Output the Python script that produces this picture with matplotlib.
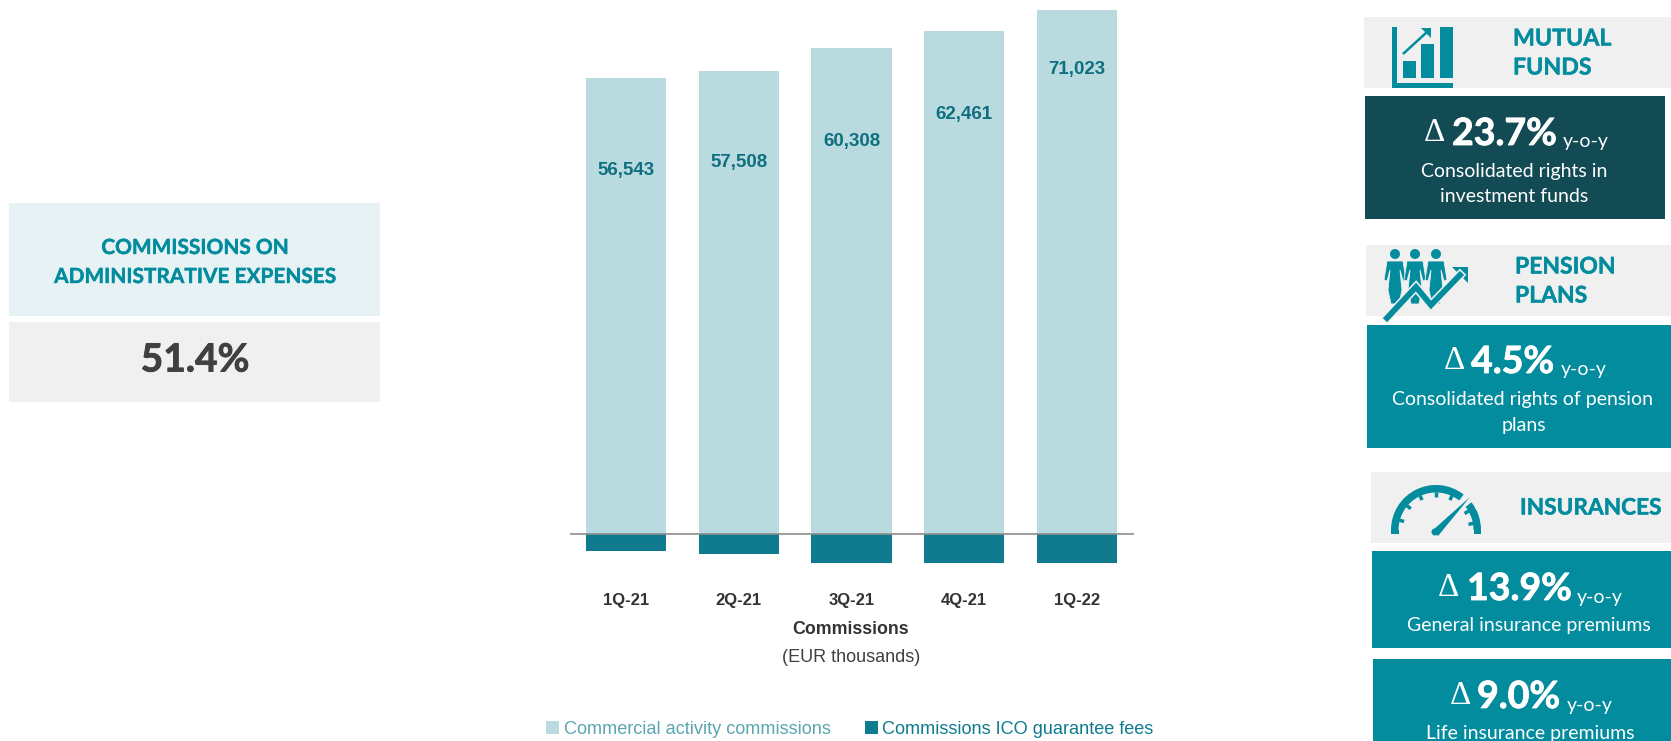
import math
import matplotlib
matplotlib.use('Agg')
import matplotlib.pyplot as plt
import matplotlib.patheffects as pe
from matplotlib.patches import Rectangle, Circle, Wedge, Polygon

# chart values, EUR thousands
quarters = ['1Q-21', '2Q-21', '3Q-21', '4Q-21', '1Q-22']
commercial = [56543, 57508, 60308, 62461, 71023]
ico_fees = [-2150, -2500, -3700, -3700, -3700]
series_names = ['Commercial activity commissions', 'Commissions ICO guarantee fees']

# panel texts
admin_title = ['COMMISSIONS ON', 'ADMINISTRATIVE EXPENSES']
admin_value = '51.4%'
funds_delta = '23.7%'
pension_delta = '4.5%'
general_delta = '13.9%'
life_delta = '9.0%'

TEAL = '#028c9e'
DARK = '#124b54'
GREY = '#f0f0f0'
LIGHT_BAR = '#b9dbdf'
DARK_BAR = '#107b8f'

SANS = 'Liberation Sans'
BODY = 'Lato'

W, H = 1671, 741
fig = plt.figure(figsize=(W / 100, H / 100), dpi=100)

# overlay in pixel units for the side panels
ov = fig.add_axes([0, 0, 1, 1], zorder=0)
ov.set_xlim(0, W)
ov.set_ylim(H, 0)
ov.axis('off')


def box(x0, y0, x1, y1, color):
    ov.add_patch(Rectangle((x0, y0), x1 - x0, y1 - y0, fc=color, ec='none'))


def txt(x, y, s, size, color=TEAL, weight='normal', ha='center', family=BODY, thick=0):
    t = ov.text(x, y, s, fontsize=size, color=color, fontweight=weight, ha=ha, va='center', family=family)
    if thick:
        # Lato bold is a bit light, fatten it
        t.set_path_effects([pe.withStroke(linewidth=thick, foreground=color)])
    return t


def delta_line(xd, xv, xy, y, value):
    txt(xd, y + 1, '\u0394', 24, 'white', ha='left', family='Liberation Serif')
    txt(xv, y + 2, value, 27, 'white', 'bold', ha='left', thick=0.6)
    txt(xy, y + 10, 'y-o-y', 14, 'white', ha='left')


# left panel
box(8.5, 203, 380, 316, '#e6f2f3')
box(8.5, 322, 380, 402, GREY)
txt(195, 248, admin_title[0], 15, weight='bold', thick=0.3)
txt(195, 277, admin_title[1], 15, weight='bold', thick=0.3)
txt(195, 360, admin_value, 28, '#404040', 'bold', thick=0.6)

# mutual funds
box(1364, 17, W, 88, GREY)
box(1365, 96, 1665, 219, DARK)
txt(1513, 39, 'MUTUAL', 16.7, weight='bold', ha='left', thick=0.3)
txt(1513, 68, 'FUNDS', 16.7, weight='bold', ha='left', thick=0.3)
delta_line(1424, 1452, 1563, 132, funds_delta)
txt(1514, 171, 'Consolidated rights in', 14, 'white')
txt(1514, 197, 'investment funds', 14, 'white')

# chart icon
box(1392, 27, 1397, 88, TEAL)
box(1392, 83, 1453, 88, TEAL)
box(1403, 61, 1416, 78, TEAL)
box(1421, 44, 1434, 78, TEAL)
box(1440, 27, 1453, 78, TEAL)
ov.plot([1403, 1427], [54, 32], color=TEAL, lw=1.8, solid_capstyle='butt')
ov.add_patch(Polygon([[1431, 28], [1431, 38], [1421, 28]], fc=TEAL, ec='none'))

# pension plans
box(1366, 245, W, 316, GREY)
box(1367, 325, W, 448, TEAL)
txt(1515, 267, 'PENSION', 16.5, weight='bold', ha='left', thick=0.3)
txt(1515, 296, 'PLANS', 16.5, weight='bold', ha='left', thick=0.3)
delta_line(1444, 1471, 1561, 360, pension_delta)
txt(1523, 399, 'Consolidated rights of pension', 14, 'white')
txt(1524, 425, 'plans', 14, 'white')

# people and rising arrow icon
for cx in (1395, 1415, 1436):
    ov.add_patch(Circle((cx, 254), 5, fc=TEAL, ec='none'))
    ov.add_patch(Polygon([[cx - 8, 261], [cx + 8, 261], [cx + 11, 280], [cx + 8, 281], [cx + 5, 270],
                          [cx + 7, 290], [cx + 4, 304], [cx - 4, 304], [cx - 7, 290], [cx - 5, 270],
                          [cx - 8, 281], [cx - 11, 280]], fc=TEAL, ec=GREY, lw=0.6))
ov.plot([1387, 1416, 1431, 1460], [318, 287, 305, 275], color=GREY, lw=6.5, solid_joinstyle='miter')
ov.plot([1387, 1416, 1431, 1460], [318, 287, 305, 275], color=TEAL, lw=4.2, solid_joinstyle='miter')
ov.add_patch(Polygon([[1452, 267], [1468, 267], [1468, 283]], fc=TEAL, ec='none'))

# insurances
box(1371, 472, W, 543, GREY)
box(1372, 551, W, 648, TEAL)
box(1373, 659, W, H, TEAL)
txt(1520, 508, 'INSURANCES', 16.3, weight='bold', ha='left', thick=0.3)
delta_line(1438, 1467, 1577, 587, general_delta)
txt(1529, 626, 'General insurance premiums', 14, 'white')
delta_line(1450, 1477, 1567, 695, life_delta)
txt(1530, 734, 'Life insurance premiums', 14, 'white')

# gauge icon, y axis of the overlay runs downwards so the angles are mirrored
gx, gy = 1436, 530
ov.add_patch(Wedge((gx, gy), 45, 180, 308, width=7.5, fc=TEAL, ec='none'))
ov.add_patch(Wedge((gx, gy), 45, 322, 360, width=7.5, fc=TEAL, ec='none'))
box(gx - 45, gy, gx - 37.5, 534, TEAL)
box(gx + 37.5, gy, gx + 45, 534, TEAL)
for a in (165, 140, 115, 90, 65, 30, 10):
    r = math.radians(a)
    ov.plot([gx + 38 * math.cos(r), gx + 33 * math.cos(r)], [gy - 38 * math.sin(r), gy - 33 * math.sin(r)],
            color=TEAL, lw=2.5, solid_capstyle='butt')
ov.add_patch(Polygon([[1470, 497], [1438, 536], [1433, 530]], fc=TEAL, ec='none'))
ov.add_patch(Circle((1435, 532), 3.5, fc=TEAL, ec='none'))

# bar chart, the top of the axes cuts the last bar
px_per_unit = 0.00805
ax_left, ax_right, ax_top, ax_bottom, zero_y = 569.5, 1133.5, 10, 565, 533.5
ax = fig.add_axes([ax_left / W, 1 - ax_bottom / H, (ax_right - ax_left) / W, (ax_bottom - ax_top) / H], zorder=1)
ax.patch.set_alpha(0)
x = list(range(len(quarters)))
bars_a = ax.bar(x, commercial, width=0.71, color=LIGHT_BAR, label=series_names[0])
bars_b = ax.bar(x, ico_fees, width=0.71, color=DARK_BAR, label=series_names[1])
ax.set_xlim(-0.5, 4.5)
ax.set_ylim((zero_y - ax_bottom) / px_per_unit, (zero_y - ax_top) / px_per_unit)
ax.set_yticks([])
ax.set_xticks(x)
ax.set_xticklabels(quarters, family=SANS, fontweight='bold', fontsize=12, color='#333333')
ax.tick_params(axis='x', length=0, pad=20)
for s in ('left', 'right', 'top', 'bottom'):
    ax.spines[s].set_visible(False)
ax.axhline(0, color='#8c8c8c', lw=1.2, zorder=5)

# value labels, offset below each bar top
label_drop = [92, 92, 93, 84, 108]
for i, v in enumerate(commercial):
    ax.annotate(f'{v:,}', (i, v), xytext=(0, -label_drop[i] * 0.72), textcoords='offset points',
                ha='center', va='center', family=SANS, fontweight='bold', fontsize=13.5, color='#0f6f80',
                annotation_clip=False)

txt(851, 630, 'Commissions', 12.8, '#333333', 'bold', family=SANS)
txt(851, 658, '(EUR thousands)', 13, '#404040', family=SANS)

leg = fig.legend(handles=[bars_a, bars_b], labels=series_names, ncol=2, frameon=False,
                 loc='center', bbox_to_anchor=(850 / W, 1 - 729 / H), handlelength=0.7, handleheight=0.7,
                 handletextpad=0.25, columnspacing=1.9, prop={'family': SANS, 'size': 13.1})
leg.get_texts()[0].set_color('#5ba6b0')
leg.get_texts()[1].set_color('#0f7b8e')

fig.savefig('out.png', dpi=100, facecolor='white')
